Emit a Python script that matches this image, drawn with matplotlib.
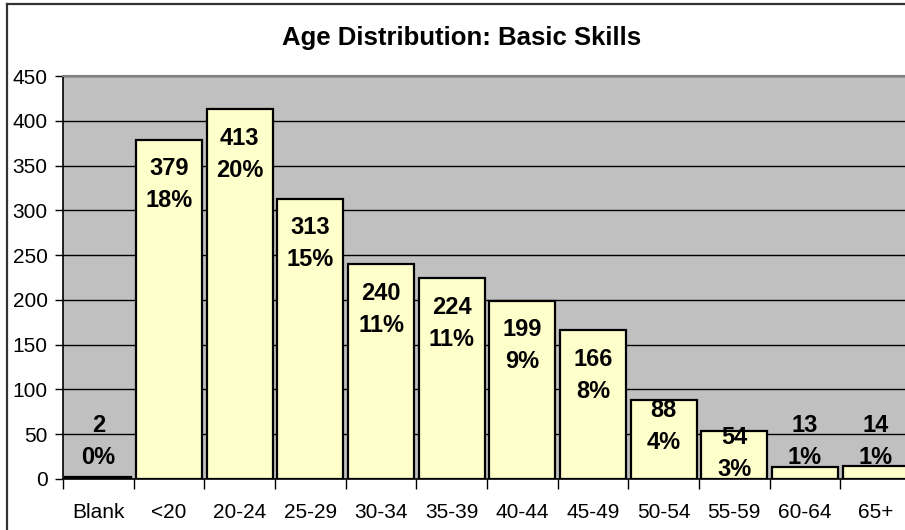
import matplotlib
matplotlib.use("Agg")
import matplotlib.pyplot as plt
from matplotlib.lines import Line2D

plt.rcParams['font.family'] = ['Liberation Sans', 'DejaVu Sans']

# ---- data ----
categories = ["Blank", "<20", "20-24", "25-29", "30-34", "35-39",
              "40-44", "45-49", "50-54", "55-59", "60-64", "65+"]
counts = [2, 379, 413, 313, 240, 224, 199, 166, 88, 54, 13, 14]
y_ticks = [0, 50, 100, 150, 200, 250, 300, 350, 400, 450]
title = "Age Distribution: Basic Skills"

total = sum(counts)
pct_labels = [f"{round(100 * c / total):.0f}%" for c in counts]

W, H = 905, 530
fig = plt.figure(figsize=(W / 100, H / 100), dpi=100)
fig.patch.set_facecolor("white")

# axes in pixel geometry
left_px, right_px, top_px, bottom_px = 63, 911, 76, 479
ax = fig.add_axes([left_px / W, (H - bottom_px) / H,
                   (right_px - left_px) / W, (bottom_px - top_px) / H])
ax.set_facecolor("#C0C0C0")

x = list(range(len(categories)))
ax.bar(x, counts, width=0.93, color="#FFFFCC", edgecolor="black",
       linewidth=1.6, zorder=3)

ax.set_xlim(-0.5, len(categories) - 0.5)
ax.set_ylim(0, 450)

# y axis
ax.set_yticks(y_ticks)
ax.set_yticklabels([str(t) for t in y_ticks])
ax.tick_params(axis="y", direction="out", length=6, width=1, pad=5,
               labelsize=15, colors="black")
ax.yaxis.grid(True, color="black", linewidth=1.0, zorder=1)
ax.set_axisbelow(True)

# x axis
ax.set_xticks(x)
ax.set_xticklabels(categories)
ax.set_xticks([i - 0.5 for i in range(len(categories) + 1)], minor=True)
ax.tick_params(axis="x", which="major", length=0, pad=17, labelsize=15)
ax.tick_params(axis="x", which="minor", direction="out", length=7, width=1)

ax.spines["right"].set_visible(False)
ax.spines["top"].set_color("#808080")
ax.spines["top"].set_linewidth(1.5)
ax.spines["left"].set_color("black")
ax.spines["bottom"].set_color("black")
ax.spines["left"].set_linewidth(1.2)
ax.spines["bottom"].set_linewidth(1.2)

# data labels
px_per_unit = (bottom_px - top_px) / 450.0
pt = 0.72  # points per pixel at dpi 100
for i, (c, p) in enumerate(zip(counts, pct_labels)):
    h = c * px_per_unit
    if h >= 100:
        base_v = c
        mid = -45
    elif h >= 40:
        base_v = c
        mid = -(0.135 * h + 16)
    else:
        base_v = 0
        mid = 38
    for txt, off in ((str(c), mid + 16), (p, mid - 16)):
        ax.annotate(txt, xy=(i, base_v), xytext=(0, off * pt),
                    textcoords="offset points", ha="center", va="center",
                    fontsize=17, fontweight="bold", zorder=5)

# title
fig.text(462 / W, 1 - 38 / H, title, ha="center", va="center",
         fontsize=18.5, fontweight="bold")

# chart area border (left and top visible)
fig.add_artist(Line2D([7 / W, 7 / W], [0, 1 - 4 / H], color="#333333",
                      linewidth=1.6, transform=fig.transFigure))
fig.add_artist(Line2D([7 / W, 1], [1 - 4 / H, 1 - 4 / H], color="#333333",
                      linewidth=1.6, transform=fig.transFigure))

fig.savefig("out.png", dpi=100)
